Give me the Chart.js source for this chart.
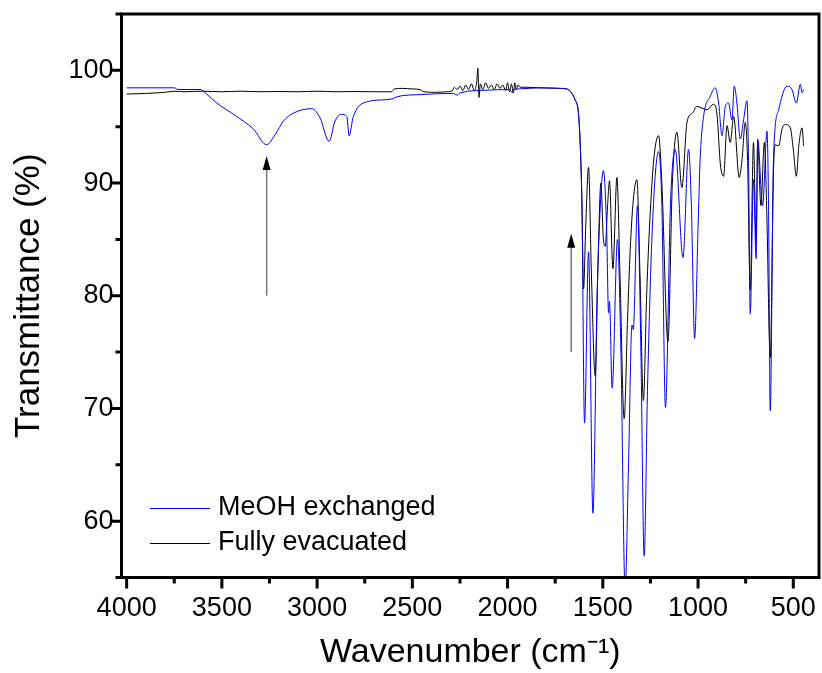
<!DOCTYPE html>
<html>
<head>
<meta charset="utf-8">
<script src="https://cdn.jsdelivr.net/npm/chart.js@4.4.1/dist/chart.umd.min.js"></script>
<style>
  body { margin: 0; background: #fff; }
  canvas { display: block; }
</style>
</head>
<body>
<canvas id="ir" width="822" height="673"></canvas>
<script>
// MeOH exchanged (blue)
const meohWn = [4000, 3800, 3750, 3730, 3614, 3580, 3527, 3430, 3335, 3265, 3220, 3177, 3125, 3028, 2985, 2937, 2906, 2871, 2844, 2832, 2810, 2739, 2634, 2600, 2582, 2459, 2284, 2266, 2249, 2109, 1990, 1975, 1965, 1934, 1829, 1724, 1690, 1672, 1646, 1628, 1619, 1610, 1596, 1575, 1552, 1530, 1510, 1497, 1480, 1470, 1465, 1451, 1423, 1405, 1383, 1365, 1347, 1340, 1318, 1300, 1283, 1265, 1240, 1207, 1190, 1171, 1145, 1120, 1079, 1050, 1035, 1018, 1000, 989, 971, 936, 910, 892, 874, 857, 840, 822, 810, 796, 778, 761, 743, 735, 726, 709, 695, 687, 661, 638, 630, 621, 604, 577, 533, 507, 484, 463, 454, 446];
const meohT = [98.45, 98.45, 98.45, 98.3, 98.3, 97.9, 97.1, 96.0, 94.8, 93.4, 94.3, 95.5, 96.2, 96.6, 95.8, 93.7, 95.5, 96.1, 95.9, 94.2, 95.9, 97.2, 97.4, 97.5, 97.65, 97.85, 97.95, 97.8, 98.0, 98.24, 98.3, 98.0, 98.3, 98.36, 98.45, 98.4, 98.35, 98.15, 97.4, 96.2, 93.6, 88.5, 68.7, 83.9, 60.7, 80, 89, 91.1, 86, 78.5, 79.5, 71.8, 85.0, 75, 54, 65, 77.4, 77.0, 88.0, 75, 56.9, 72, 86, 92.8, 88, 70.1, 88, 93.0, 83.4, 93.0, 88, 76.2, 86, 92.1, 95.9, 97.7, 98.45, 97.1, 94.2, 96.8, 97.1, 95.6, 98.6, 97.1, 93.9, 95.6, 97.3, 92, 78.4, 90.3, 83.3, 93.9, 88.0, 94.6, 88, 69.8, 92.1, 96.5, 98.6, 98.3, 97.1, 98.75, 98.0, 98.3];

// Fully evacuated (black)
const evacWn = [4000, 3900, 3800, 3746, 3700, 3600, 3500, 3400, 3300, 3200, 3100, 3000, 2900, 2800, 2700, 2610, 2595, 2550, 2500, 2460, 2440, 2380, 2320, 2290, 2280, 2265, 2250, 2235, 2220, 2205, 2190, 2175, 2162, 2156, 2150, 2143, 2130, 2115, 2100, 2085, 2070, 2055, 2040, 2025, 2010, 2000, 1990, 1980, 1970, 1962, 1955, 1945, 1935, 1900, 1829, 1724, 1690, 1672, 1646, 1628, 1619, 1610, 1601, 1590, 1575, 1560, 1540, 1525, 1510, 1497, 1487, 1475, 1465, 1447, 1426, 1410, 1388, 1370, 1356, 1340, 1321, 1305, 1287, 1270, 1251, 1230, 1207, 1190, 1158, 1135, 1111, 1085, 1058, 1030, 1006, 953, 918, 900, 883, 866, 848, 831, 813, 784, 769, 752, 740, 726, 709, 695, 687, 670, 652, 640, 621, 604, 595, 577, 559, 542, 516, 500, 484, 470, 454, 446];
const evacT = [97.9, 97.95, 98.05, 98.15, 98.1, 98.15, 98.1, 98.15, 98.1, 98.12, 98.1, 98.15, 98.1, 98.12, 98.1, 98.1, 98.35, 98.4, 98.35, 98.3, 98.1, 98.05, 98.1, 98.2, 98.5, 98.3, 98.6, 98.2, 98.7, 98.3, 98.8, 98.2, 99.0, 100.2, 97.6, 98.8, 98.3, 98.9, 98.4, 98.7, 98.3, 98.8, 98.4, 98.7, 98.2, 98.9, 98.1, 98.8, 98.0, 98.9, 98.3, 98.7, 98.5, 98.5, 98.45, 98.4, 98.35, 98.15, 97.4, 96.2, 93.6, 88.5, 80.6, 86, 91.4, 82, 72.9, 83, 90.0, 85, 84.4, 88, 90.2, 82.4, 90.5, 82, 69.1, 78, 84.1, 88.5, 90.3, 82, 70.7, 80, 87.4, 92.5, 94.2, 90, 75.9, 90, 94.5, 89.6, 95.4, 96.2, 96.8, 96.5, 97.0, 96.0, 91.7, 90.6, 95.1, 93.6, 95.9, 90.5, 92.1, 95.4, 92, 80.5, 93.6, 84.7, 93.7, 88, 93.6, 88, 74.5, 91, 93.4, 93.3, 94.8, 95.2, 94.9, 93, 90.6, 93.5, 94.9, 93.3];

const xTicks = [500, 1000, 1500, 2000, 2500, 3000, 3500, 4000];
const xMinorTicks = [750, 1250, 1750, 2250, 2750, 3250, 3750];
const yTicks = [60, 70, 80, 90, 100];
const yMinorTicks = [55, 65, 75, 85, 95, 105];

const seriesNames = ["MeOH exchanged", "Fully evacuated"];
const seriesColors = ["#0000ff", "#000000"];

// arrows marking the bands
const arrowWn = [3265, 1666];
const arrowFrom = [80, 75];
const arrowTo = [92.4, 85.5];

const FONT = "'Liberation Sans', Arial, sans-serif";

const toPoints = (wn, t) => wn.map((x, i) => ({ x, y: t[i] }));

// frame, tick marks, arrows, legend
const decor = {
  id: "decor",
  afterDraw(chart) {
    const { ctx, chartArea: a, scales } = chart;
    const xs = scales.x, ys = scales.y;
    ctx.save();

    // arrows
    arrowWn.forEach((wn, i) => {
      const px = xs.getPixelForValue(wn);
      const y0 = ys.getPixelForValue(arrowFrom[i]);
      const y1 = ys.getPixelForValue(arrowTo[i]);
      ctx.strokeStyle = "#777";
      ctx.lineWidth = 1.5;
      ctx.beginPath();
      ctx.moveTo(px, y0);
      ctx.lineTo(px, y1 + 12);
      ctx.stroke();
      ctx.fillStyle = "#000";
      ctx.beginPath();
      ctx.moveTo(px, y1);
      ctx.lineTo(px - 4, y1 + 14);
      ctx.lineTo(px + 4, y1 + 14);
      ctx.closePath();
      ctx.fill();
    });

    // legend
    ctx.font = "27px " + FONT;
    ctx.textBaseline = "middle";
    ctx.textAlign = "left";
    seriesNames.forEach((name, i) => {
      const y = 508 + i * 35;
      ctx.strokeStyle = seriesColors[i];
      ctx.lineWidth = 1;
      ctx.beginPath();
      ctx.moveTo(150, y + 0.5);
      ctx.lineTo(210, y + 0.5);
      ctx.stroke();
      ctx.fillStyle = "#000";
      ctx.fillText(name, 218, y);
    });

    // ticks
    ctx.strokeStyle = "#000";
    ctx.lineWidth = 3;
    ctx.beginPath();
    xTicks.forEach(v => {
      const px = xs.getPixelForValue(v);
      ctx.moveTo(px, a.bottom);
      ctx.lineTo(px, a.bottom + 11);
    });
    xMinorTicks.forEach(v => {
      const px = xs.getPixelForValue(v);
      ctx.moveTo(px, a.bottom);
      ctx.lineTo(px, a.bottom + 6);
    });
    yTicks.forEach(v => {
      const py = ys.getPixelForValue(v);
      ctx.moveTo(a.left, py);
      ctx.lineTo(a.left - 11, py);
    });
    yMinorTicks.forEach(v => {
      const py = ys.getPixelForValue(v);
      ctx.moveTo(a.left, py);
      ctx.lineTo(a.left - 6, py);
    });
    ctx.stroke();

    // frame
    ctx.lineWidth = 3;
    ctx.strokeRect(a.left, a.top, a.right - a.left, a.bottom - a.top);
    ctx.restore();
  }
};

new Chart(document.getElementById("ir"), {
  type: "line",
  data: {
    datasets: [
      {
        label: seriesNames[0],
        data: toPoints(meohWn, meohT),
        borderColor: seriesColors[0],
        borderWidth: 1,
        pointRadius: 0,
        cubicInterpolationMode: "monotone",
        fill: false,
      },
      {
        label: seriesNames[1],
        data: toPoints(evacWn, evacT),
        borderColor: seriesColors[1],
        borderWidth: 1,
        pointRadius: 0,
        cubicInterpolationMode: "monotone",
        fill: false,
      },
    ],
  },
  options: {
    responsive: false,
    animation: false,
    layout: { padding: { top: 14, right: 3, left: 0, bottom: 0 } },
    plugins: { legend: { display: false }, tooltip: { enabled: false } },
    scales: {
      x: {
        type: "linear",
        reverse: true,
        min: 365,
        max: 4027,
        grid: { display: false, drawTicks: false },
        border: { display: false },
        afterBuildTicks: s => { s.ticks = xTicks.map(v => ({ value: v })); },
        afterFit: s => { s.height = 95.5; s.paddingLeft = 0; s.paddingRight = 0; },
        ticks: {
          color: "#000", font: { family: FONT, size: 27 }, padding: 15, maxRotation: 0, autoSkip: false,
          callback: v => String(v),
        },
        title: {
          display: true,
          text: "Wavenumber (cm\u207B\u00B9)",
          color: "#000",
          font: { family: FONT, size: 34 },
          padding: { top: 0, bottom: 0 },
        },
      },
      y: {
        min: 55,
        max: 105,
        grid: { display: false, drawTicks: false },
        border: { display: false },
        afterBuildTicks: s => { s.ticks = yTicks.map(v => ({ value: v })); },
        afterFit: s => { s.width = 121.5; s.paddingTop = 0; s.paddingBottom = 0; },
        ticks: {
          color: "#000", font: { family: FONT, size: 27 }, padding: 8, autoSkip: false,
          callback: v => String(v),
        },
        title: {
          display: true,
          text: "Transmittance (%)",
          color: "#000",
          font: { family: FONT, size: 35 },
          padding: { top: 8, bottom: 0 },
        },
      },
    },
  },
  plugins: [decor],
});
</script>
</body>
</html>
